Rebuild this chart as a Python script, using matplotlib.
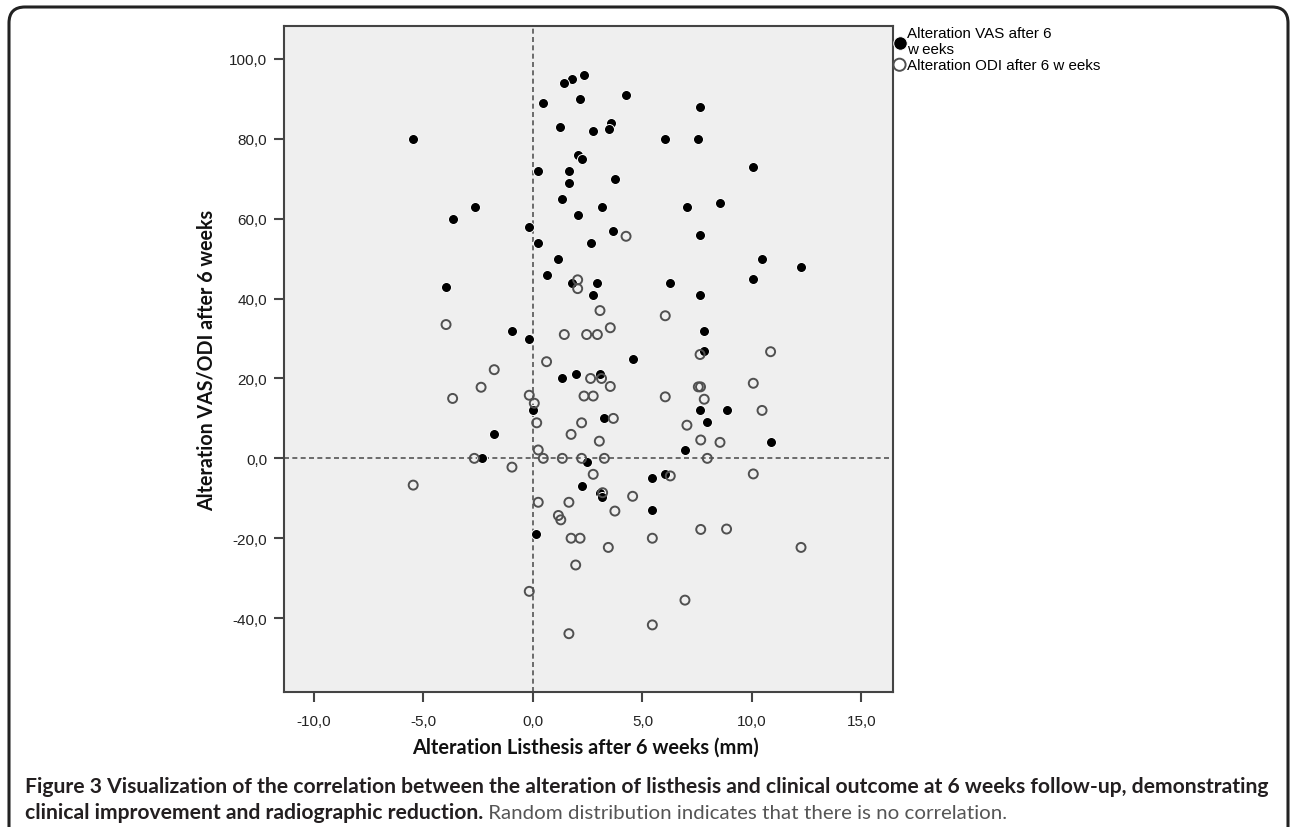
import matplotlib.pyplot as plt
from matplotlib.patches import FancyBboxPatch
from matplotlib.transforms import IdentityTransform

# Alteration VAS after 6 weeks (filled dots)
vas_x = [-5.5, 0.44, 0.24, -3.67, -2.65, -0.17, 0.24, 0.62, -3.97, 2.34,
         1.77, 1.42, 4.25, 2.15, 7.64, 1.23, 2.74, 3.55, 3.45, 6.04,
         7.55, 2.04, 2.25, 1.64, 1.64, 3.74, 10.06, 1.34, 3.14, 7.03,
         8.54, 2.04, 3.64, 7.64, 2.64, 1.16, 10.44, 12.24, 10.06, 1.77,
         2.94, 6.26, 2.76, 7.64, -0.96, -0.17, 0.02, -1.77, -2.34, 0.14,
         7.82, 7.82, 4.55, 1.34, 1.95, 3.06, 7.64, 8.84, 3.24, 7.96,
         10.85, 6.94, 2.45, 5.45, 6.04, 2.22, 3.06, 3.13, 5.45]
vas_y = [80, 89, 72, 60, 63, 58, 54, 46, 43, 96,
         95, 94, 91, 90, 88, 83, 82, 84, 82.5, 80,
         80, 76, 75, 72, 69, 70, 73, 65, 63, 63,
         64, 61, 57, 56, 54, 50, 50, 48, 45, 44,
         44, 44, 41, 41, 32, 30, 12, 6, 0, -19,
         32, 27, 25, 20, 21, 21, 12, 12, 10, 9,
         4, 2, -1, -5, -4, -7, -8.8, -9.8, -13]

# Alteration ODI after 6 weeks (open circles)
odi_x = [4.25, 2.04, 2.04, 3.06, -3.97, 0.62, -1.77, -2.37, -3.67, -0.17,
         0.06, 0.17, -2.68, -0.96, 0.24, 0.47, -5.47, 0.24, 6.04, 1.43,
         2.45, 2.94, 3.53, 7.63, 10.85, 2.63, 3.13, 3.53, 10.06, 7.55,
         7.65, 7.82, 6.04, 2.33, 2.75, 10.46, 3.67, 7.03, 2.22, 1.74,
         3.03, 7.66, 8.54, 1.34, 2.22, 3.26, 7.96, 2.75, 10.06, 6.27,
         3.18, 4.55, 1.64, 3.74, 1.16, 1.27, 7.66, 8.84, 1.74, 2.15,
         5.45, 3.44, 12.24, 1.95, 6.94, 5.45, 1.64, -0.17]
odi_y = [55.6, 44.7, 42.5, 37, 33.5, 24.2, 22.2, 17.8, 15, 15.8,
         13.8, 8.9, 0, -2.2, 2.1, 0, -6.7, -11, 35.7, 31,
         31, 31, 32.7, 26, 26.7, 20, 20, 18, 18.8, 17.9,
         17.9, 14.8, 15.4, 15.6, 15.6, 12, 10, 8.3, 8.9, 6,
         4.3, 4.6, 4, 0, 0, 0, 0, -4, -3.9, -4.4,
         -8.6, -9.5, -11, -13.2, -14.3, -15.4, -17.8, -17.7, -20, -20,
         -20, -22.3, -22.3, -26.7, -35.5, -41.7, -43.9, -33.3]

x_ticks = [-10, -5, 0, 5, 10, 15]
y_ticks = [-40, -20, 0, 20, 40, 60, 80, 100]

legend_labels = ['Alteration VAS after 6\nw eeks', 'Alteration ODI after 6 w eeks']
x_title = 'Alteration Listhesis after 6 weeks (mm)'
y_title = 'Alteration VAS/ODI after 6 weeks'
caption_bold_1 = ('Figure 3 Visualization of the correlation between the alteration of listhesis '
                  'and clinical outcome at 6 weeks follow-up, demonstrating')
caption_bold_2 = 'clinical improvement and radiographic reduction.'
caption_plain = ' Random distribution indicates that there is no correlation.'

W, H = 1292, 828
fig = plt.figure(figsize=(W / 100, H / 100), dpi=100)
ax = fig.add_axes([284 / W, 1 - 693 / H, (893 - 284) / W, (693 - 27) / H])
ax.set_facecolor('#efefef')

ax.axvline(0, color='#555555', lw=1.2, ls=(0, (3, 2)), zorder=1)
ax.axhline(0, color='#555555', lw=1.2, ls=(0, (3, 2)), zorder=1)

h1 = ax.scatter(vas_x, vas_y, s=52, c='black', edgecolors='white', linewidths=0.7, zorder=3)
h2 = ax.scatter(odi_x, odi_y, s=42, facecolors='none', edgecolors='#505050', linewidths=1.4, zorder=4)

ax.set_xlim(-11.37, 16.44)
ax.set_ylim(-58.5, 108.25)
ax.set_xticks(x_ticks)
ax.set_yticks(y_ticks)
ax.set_xticklabels([f'{v:.1f}'.replace('.', ',') for v in x_ticks])
ax.set_yticklabels([f'{v:.1f}'.replace('.', ',') for v in y_ticks])
ax.tick_params(direction='out', length=7, width=1.5, color='#444444', labelsize=11,
               labelcolor='#222222', pad=5)
for lab in ax.get_xticklabels() + ax.get_yticklabels():
    lab.set_fontfamily('Liberation Sans')
ax.tick_params(axis='x', pad=9)
for sp in ax.spines.values():
    sp.set_color('#444444')
    sp.set_linewidth(1.5)

ax.legend([h1, h2], legend_labels, loc='upper left', bbox_to_anchor=(895 / W, 1 - 27 / H),
          bbox_transform=fig.transFigure, frameon=False, borderpad=0, borderaxespad=0,
          handlelength=0.6, handletextpad=0.2, labelspacing=0.1, markerscale=1.35,
          alignment='left', prop={'family': 'Liberation Sans', 'size': 10.9})

fig.canvas.draw()
r = fig.canvas.get_renderer()


def fit(t, target):
    w = t.get_window_extent(r).width
    t.set_fontsize(t.get_fontsize() * target / w)


xl = fig.text(585 / W, 1 - 754 / H, x_title, ha='center', va='baseline',
              fontfamily='Lato', fontweight='bold', fontsize=13, color='#111111')
fit(xl, 346)
yl = fig.text(207 / W, 1 - 360 / H, y_title, ha='center', va='center', rotation=90,
              fontfamily='Lato', fontweight='bold', fontsize=13, color='#111111')
fig.canvas.draw()
bb = yl.get_window_extent(r)
yl.set_fontsize(yl.get_fontsize() * 300 / bb.height)

c1 = fig.text(25 / W, 1 - 793 / H, caption_bold_1, ha='left', va='baseline',
              fontfamily='Lato', fontweight='bold', fontsize=13, color='#231f20')
fit(c1, 1242)
c2 = fig.text(25 / W, 1 - 819 / H, caption_bold_2, ha='left', va='baseline',
              fontfamily='Lato', fontweight='bold', fontsize=c1.get_fontsize(), color='#231f20')
fig.canvas.draw()
end2 = c2.get_window_extent(r).x1
c3 = fig.text(end2 / W, 1 - 819 / H, caption_plain, ha='left', va='baseline',
              fontfamily=['Liberation Sans Narrow', 'Lato'], fontweight='normal',
              fontsize=c1.get_fontsize() * 0.97, color='#555555')

frame = FancyBboxPatch((9, -30), 1279, H - 8 + 30, boxstyle='round,pad=0,rounding_size=16',
                       transform=IdentityTransform(), facecolor='none', edgecolor='#222222',
                       lw=2.2)
fig.add_artist(frame)

fig.savefig('out.png', dpi=100)
